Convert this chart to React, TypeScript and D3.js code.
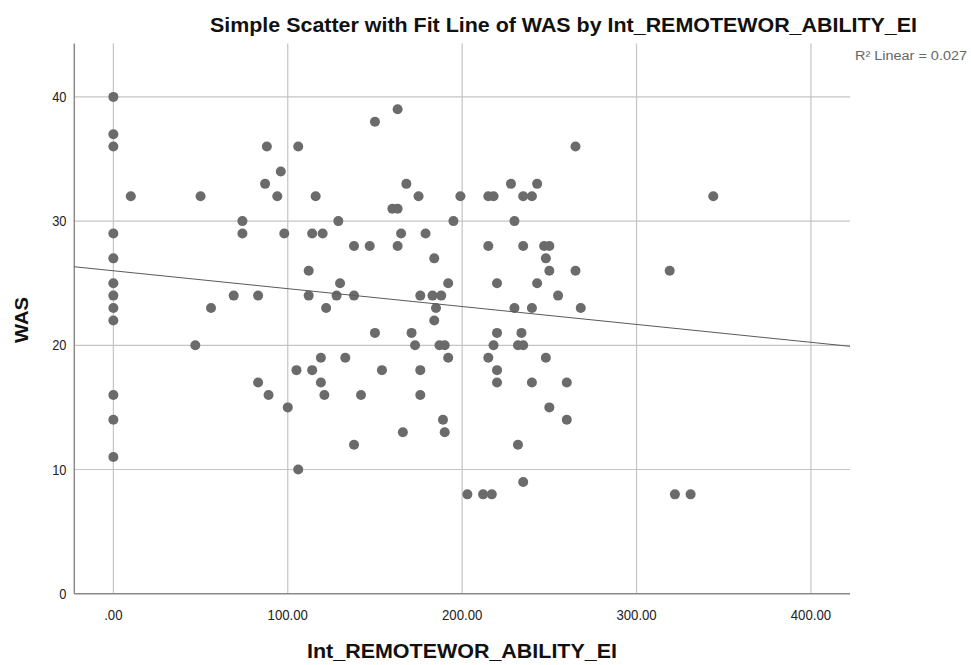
import React from "react";
import * as d3 from "d3";

const xValues: number[] = [
  0, 0, 0, 0, 0, 0, 0, 0, 0, 0, 0, 0,
  10, 50, 88, 106, 96, 87, 94, 116, 74, 74, 98, 114, 120, 112, 69, 83, 112, 56, 47, 83, 89, 100, 105, 114, 119, 119, 121, 106,
  150, 163, 168, 175, 199, 215, 218, 228, 235, 240, 243, 160, 163, 129, 195, 230, 165, 179, 138, 147, 163, 215, 235, 247, 250,
  248, 250, 184, 130, 192, 220, 243, 128, 138, 176, 183, 188, 255, 122, 185, 230, 240, 184, 150, 171, 220, 234, 173, 187, 190,
  218, 232, 235, 133, 192, 215, 248, 154, 176, 220, 220, 240, 142, 176, 250, 189, 166, 190, 138, 232, 235, 203, 212, 217,
  265, 344, 265, 319, 268, 260, 260, 322, 331,
];
const wasValues: number[] = [
  40, 37, 36, 29, 27, 25, 24, 23, 22, 16, 14, 11,
  32, 32, 36, 36, 34, 33, 32, 32, 30, 29, 29, 29, 29, 26, 24, 24, 24, 23, 20, 17, 16, 15, 18, 18, 19, 17, 16, 10,
  38, 39, 33, 32, 32, 32, 32, 33, 32, 32, 33, 31, 31, 30, 30, 30, 29, 29, 28, 28, 28, 28, 28, 28, 28,
  27, 26, 27, 25, 25, 25, 25, 24, 24, 24, 24, 24, 24, 23, 23, 23, 23, 22, 21, 21, 21, 21, 20, 20, 20,
  20, 20, 20, 19, 19, 19, 19, 18, 18, 18, 17, 17, 16, 16, 15, 14, 13, 13, 12, 12, 9, 8, 8, 8,
  36, 32, 26, 26, 23, 17, 14, 8, 8,
];
const xTicks: number[] = [0, 100, 200, 300, 400];
const xTickLabels: string[] = [".00", "100.00", "200.00", "300.00", "400.00"];
const yTicks: number[] = [0, 10, 20, 30, 40];
const fitIntercept = 26.0;
const fitSlope = -0.0144;
const rSquaredLabel = "R² Linear = 0.027";
const title = "Simple Scatter with Fit Line of WAS by Int_REMOTEWOR_ABILITY_EI";
const xTitle = "Int_REMOTEWOR_ABILITY_EI";
const yTitle = "WAS";

const FONT = "'Liberation Sans', Arial, sans-serif";

export default function App() {
  const left = 74.3, right = 850, top = 43.5, bottom = 593.7;
  const x = d3.scaleLinear().domain([-22.4, 422.4]).range([left, right]);
  const y = d3.scaleLinear().domain([0, 44.3]).range([bottom, top]);
  const points = xValues.map((v, i) => ({ x: v, y: wasValues[i] }));
  const [d0, d1] = x.domain();
  const fitLine = d3.line<number>()
    .x((d) => x(d))
    .y((d) => y(fitIntercept + fitSlope * d))([d0, d1]);

  return (
    <svg width={971} height={665} style={{ position: "absolute", left: 0, top: 0, background: "#fff" }}>
      <rect x={0} y={0} width={971} height={665} fill="#fff" />
      {yTicks.filter((t) => t > 0).map((t) => (
        <line key={"gy" + t} x1={left} x2={right} y1={y(t)} y2={y(t)} stroke="#c4c4c4" strokeWidth={1.2} />
      ))}
      {xTicks.map((t) => (
        <line key={"gx" + t} x1={x(t)} x2={x(t)} y1={top} y2={bottom} stroke="#c4c4c4" strokeWidth={1.2} />
      ))}
      <line x1={left} x2={left} y1={top} y2={bottom} stroke="#8a8a8a" strokeWidth={1.5} />
      <line x1={left} x2={right} y1={bottom} y2={bottom} stroke="#8a8a8a" strokeWidth={1.5} />
      {points.map((p, i) => (
        <circle key={i} cx={x(p.x)} cy={y(p.y)} r={5} fill="#6b6b6b" />
      ))}
      <path d={fitLine || ""} fill="none" stroke="#5a5a5a" strokeWidth={1} />
      {yTicks.map((t) => (
        <text key={"ty" + t} transform={`translate(66.5,${y(t) + 5}) scale(0.92,1)`} textAnchor="end"
          fontFamily={FONT} fontSize={14} fill="#222">{t}</text>
      ))}
      {xTicks.map((t, i) => (
        <text key={"tx" + t} transform={`translate(${x(t)},${620}) scale(0.88,1)`} textAnchor="middle"
          fontFamily={FONT} fontSize={15} fill="#222">{xTickLabels[i]}</text>
      ))}
      <text x={563.5} y={32} textAnchor="middle" fontFamily={FONT} fontSize={20} fontWeight="bold" fill="#111"
        textLength={707} lengthAdjust="spacingAndGlyphs">{title}</text>
      <text x={855} y={60} fontFamily={FONT} fontSize={12.5} fill="#666"
        textLength={112} lengthAdjust="spacingAndGlyphs">{rSquaredLabel}</text>
      <text x={462} y={658} textAnchor="middle" fontFamily={FONT} fontSize={20} fontWeight="bold" fill="#111"
        textLength={310} lengthAdjust="spacingAndGlyphs">{xTitle}</text>
      <text transform={`translate(28,320) rotate(-90)`} textAnchor="middle" fontFamily={FONT}
        fontSize={19} fontWeight="bold" fill="#111" textLength={46} lengthAdjust="spacingAndGlyphs">{yTitle}</text>
    </svg>
  );
}
